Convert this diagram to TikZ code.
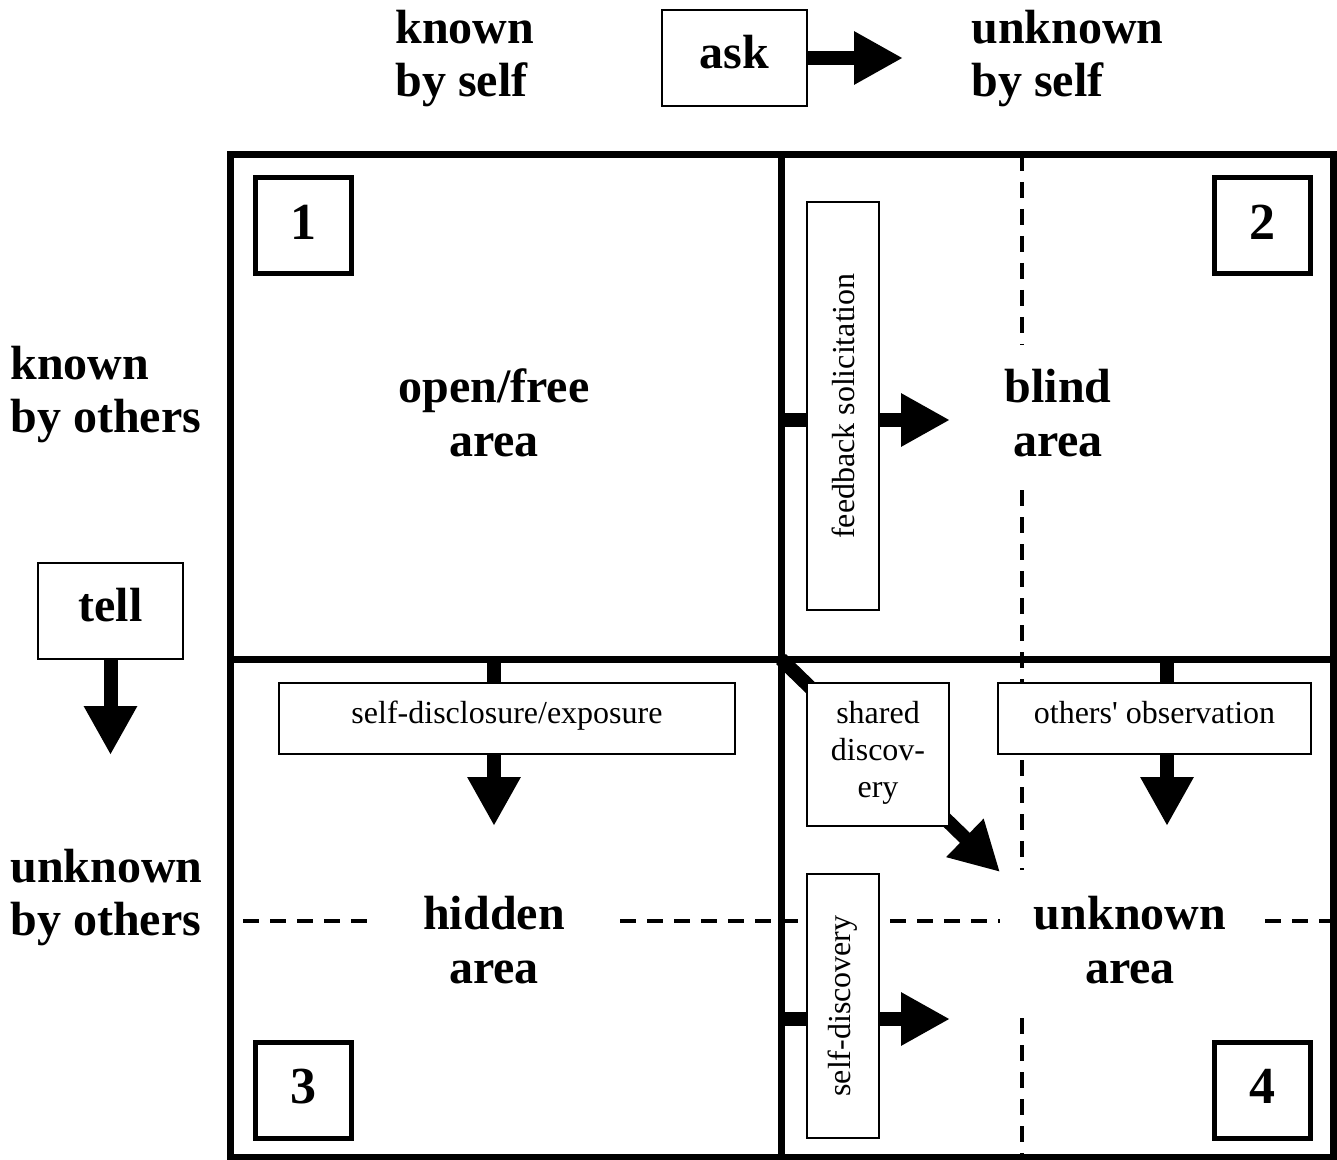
\documentclass[tikz,border=0pt]{standalone}
\usepackage{fontspec}
\setmainfont{Liberation Serif}[Ligatures=TeXOff]
\usetikzlibrary{arrows.meta,positioning}
\tikzstyle{numbox}=[draw,line width=2.5pt,minimum size=48pt,inner sep=0pt,text depth=4pt,font=\fontsize{26}{28}\selectfont\bfseries]
\tikzstyle{cmdbox}=[draw,line width=1pt,minimum width=72.5pt,minimum height=48pt,inner sep=0pt,text depth=6pt,font=\fontsize{24}{27}\selectfont\bfseries]
\tikzstyle{flowbox}=[draw,fill=white,line width=1pt,inner sep=0pt,align=center,font=\fontsize{16}{18.5}\selectfont]
\tikzstyle{heading}=[anchor=west,align=left,inner sep=0pt,font=\fontsize{24}{26.5}\selectfont\bfseries]
\tikzstyle{area label}=[align=center,inner sep=0pt,font=\fontsize{24}{27}\selectfont\bfseries]
\tikzstyle{bigarrow}=[line width=7pt,-{Triangle[length=24.5pt,width=25pt]}]
\tikzstyle{divider}=[line width=1.75pt,dash pattern=on 8pt off 5.5pt]
\tikzstyle{frame}=[line width=3.5pt]

\begin{document}
\begin{tikzpicture}[x=0.5pt,y=-0.5pt]
    \useasboundingbox (0,0) rectangle (1337,1160);
    % headings round the window
    \node[heading] (selfknown) at (395,59) {known\\by self};
    \node[heading] (selfunknown) at (971,59) {unknown\\by self};
    \node[heading] (othersknown) at (10,395) {known\\by others};
    \node[heading] (othersunknown) at (10,898) {unknown\\by others};
    \node[cmdbox] (ask) at (734.5,58) {ask};
    \node[cmdbox] (tell) at (110.5,611) {tell};
    \coordinate (asktip) at (903,58);
    \coordinate (telltip) at (110.5,755);
    \draw[bigarrow] (ask.east) -- (asktip);
    \draw[bigarrow] (tell.south) -- (telltip);

    % dashed dividers (drawn first, the boxes cover them)
    \foreach \from/\to in {{(1022,155)/(1022,345)}, {(1022,490)/(1022,870)}, {(1022,1018)/(1022,1160)},
                           {(243,921)/(370,921)}, {(620,921)/(1000,921)}, {(1265,921)/(1333,921)}}
        \draw[divider] \from -- \to;

    % the window itself
    \draw[frame] (230,155) rectangle (1333.5,1157);
    \draw[frame] (781,155) -- (781,1157);
    \draw[frame] (230,659) -- (1333.5,659);
    \coordinate (center) at (781,659);

    % quadrant numbers
    \foreach \pos/\name in {{(303,226)/1}, {(1262.5,226)/2}, {(303,1090)/3}, {(1262.5,1090)/4}}
        \node[numbox] (num\name) at \pos {\name};

    % area names
    \node[area label] (open) at (494,413) {open/free\\area};
    \node[area label] (blind) at (1058,413) {blind\\area};
    \node[area label] (hidden) at (494,940) {hidden\\area};
    \node[area label] (unknown) at (1130,940) {unknown\\area};

    % arrows out of the frame, then their boxes on top
    \coordinate (fbstart) at (781,420);
    \coordinate (fbtip) at (950,420);
    \coordinate (sdstart) at (494,659);
    \coordinate (sdtip) at (494,826);
    \coordinate (obstart) at (1167,659);
    \coordinate (obtip) at (1167,826);
    \coordinate (shtip) at (1000,872);
    \coordinate (dsstart) at (781,1019);
    \coordinate (dstip) at (950,1019);
    \foreach \source/\dest in {fbstart/fbtip, sdstart/sdtip, obstart/obtip, center/shtip, dsstart/dstip}
        \draw[bigarrow] (\source) -- (\dest);

    \node[flowbox,rotate=90,minimum width=204pt,minimum height=36pt] (feedback) at (843,406) {feedback solicitation};
    \node[flowbox,minimum width=228pt,minimum height=35.5pt,text depth=6.5pt] (disclosure) at (507,718.5) {self-disclosure/exposure};
    \node[flowbox,minimum width=156.5pt,minimum height=35.5pt,text depth=6.5pt] (observation) at (1154.5,718.5) {others' observation};
    \node[flowbox,minimum width=71pt,minimum height=71.5pt,text depth=5pt] (shared) at (878,754.5) {shared\\discov-\\ery};
    \node[flowbox,rotate=90,minimum width=132pt,minimum height=36pt] (selfdisc) at (843,1006) {self-discovery};
\end{tikzpicture}
\end{document}
